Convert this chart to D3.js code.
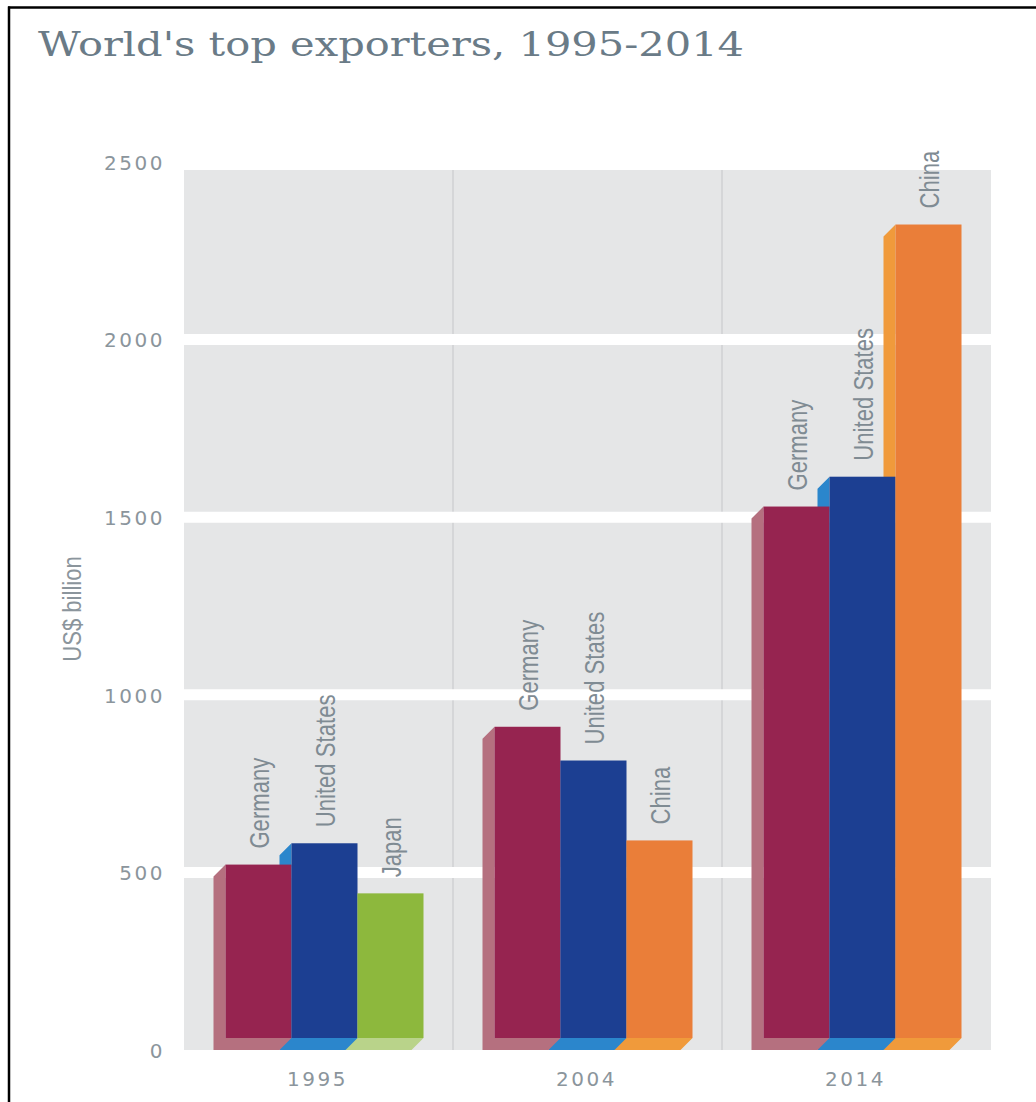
<!DOCTYPE html>
<html>
<head>
<meta charset="utf-8">
<script src="https://cdn.jsdelivr.net/npm/d3@7"></script>
<style>
  html, body { margin: 0; padding: 0; background: #ffffff; }
  svg { display: block; }
</style>
</head>
<body>
<svg id="chart" width="1036" height="1102"></svg>
<script>
// ---------- data ----------
const years = ["1995", "2004", "2014"];
const countries1995 = ["Germany", "United States", "Japan"];
const values1995 = [522, 582, 441];
const countries2004 = ["Germany", "United States", "China"];
const values2004 = [910, 815, 590];
const countries2014 = ["Germany", "United States", "China"];
const values2014 = [1530, 1614, 2324];
const yTicks = [0, 500, 1000, 1500, 2000, 2500];
const gridValues = [500, 1000, 1500, 2000];
const titleText = "World's top exporters, 1995-2014";
const yAxisTitle = "US$ billion";

const frontColors = { "Germany": "#962450", "United States": "#1c3f92", "Japan": "#8db83d", "China": "#ea7e39" };
const sideColors  = { "Germany": "#b5707f", "United States": "#2b86cc", "Japan": "#b9d38a", "China": "#f09a3b" };

const groups = [
  { year: years[0], countries: countries1995, values: values1995 },
  { year: years[1], countries: countries2004, values: values2004 },
  { year: years[2], countries: countries2014, values: values2014 }
];

// ---------- layout ----------
const plotLeft = 184, plotRight = 991, plotTop = 170;
const depth = 12, barW = 66;

const svg = d3.select("#chart");

const x = d3.scaleBand().domain(years).range([plotLeft, plotRight]).padding(0);
const y = d3.scaleLinear().domain([0, 2500]).range([1050, 162]);
const y0 = y(0);

// border
svg.append("line").attr("x1", 8).attr("x2", 1036).attr("y1", 7.5).attr("y2", 7.5)
  .attr("stroke", "#000").attr("stroke-width", 2.5);
svg.append("line").attr("x1", 9).attr("x2", 9).attr("y1", 6.5).attr("y2", 1102)
  .attr("stroke", "#000").attr("stroke-width", 2.5);

// title
svg.append("text")
  .attr("x", 38).attr("y", 56)
  .attr("font-family", "'DejaVu Serif', serif")
  .attr("font-size", 34)
  .attr("fill", "#6a7b87")
  .attr("textLength", 706).attr("lengthAdjust", "spacingAndGlyphs")
  .text(titleText);

// plot background
svg.append("rect")
  .attr("x", plotLeft).attr("y", plotTop)
  .attr("width", plotRight - plotLeft).attr("height", y0 - plotTop)
  .attr("fill", "#e5e6e7");

// group separators
svg.selectAll("line.sep").data(years.slice(1)).enter().append("line")
  .attr("class", "sep")
  .attr("x1", d => x(d)).attr("x2", d => x(d))
  .attr("y1", plotTop).attr("y2", y0)
  .attr("stroke", "#d5d6d8").attr("stroke-width", 2);

// gridlines
svg.selectAll("line.grid").data(gridValues).enter().append("line")
  .attr("class", "grid")
  .attr("x1", plotLeft).attr("x2", plotRight)
  .attr("y1", d => y(d)).attr("y2", d => y(d))
  .attr("stroke", "#ffffff").attr("stroke-width", 11);

// y tick labels
const yAxis = d3.axisLeft(y).tickValues(yTicks).tickFormat(d3.format("d")).tickSize(0).tickPadding(0);
const yg = svg.append("g").attr("transform", "translate(165,0)").call(yAxis);
yg.select(".domain").remove();
yg.selectAll("text")
  .attr("font-family", "'DejaVu Sans', sans-serif")
  .attr("font-size", 20)
  .attr("letter-spacing", "2.5px")
  .attr("fill", "#8b959c")
  .attr("dy", "0.36em");

// year labels
const xAxis = d3.axisBottom(x).tickSize(0).tickPadding(0);
const xg = svg.append("g").attr("transform", "translate(-1,1086)").call(xAxis);
xg.select(".domain").remove();
xg.selectAll("text")
  .attr("font-family", "'DejaVu Sans', sans-serif")
  .attr("font-size", 20)
  .attr("letter-spacing", "2.5px")
  .attr("fill", "#8b959c")
  .attr("dy", 0);

// y axis title
svg.append("text")
  .attr("transform", "translate(72,609) rotate(-90) scale(0.85,1)")
  .attr("text-anchor", "middle")
  .attr("dy", "0.35em")
  .attr("font-family", "'Liberation Sans', Arial, sans-serif")
  .attr("font-size", 26)
  .attr("fill", "#8b959c")
  .text(yAxisTitle);

// bars
const bars = [];
groups.forEach(g => {
  const left = x(g.year) + x.bandwidth() / 2 - (depth + 3 * barW) / 2;
  g.countries.forEach((c, i) => {
    bars.push({ year: g.year, idx: i, country: c, value: g.values[i], x0: left + depth + i * barW, x1: left + depth + (i + 1) * barW });
  });
});

// side + bottom faces first, drawn right-to-left so each left bar's bottom overlaps its neighbour's side
const sideOrder = bars.slice().sort((a, b) => b.x0 - a.x0);
svg.selectAll("path.side").data(sideOrder).enter().append("path")
  .attr("class", "side")
  .attr("fill", d => sideColors[d.country])
  .attr("d", d => {
    const yt = y(d.value);
    return "M" + [
      [d.x0 - depth, yt + depth],
      [d.x0, yt],
      [d.x0, y0 - depth],
      [d.x1, y0 - depth],
      [d.x1 - depth, y0],
      [d.x0 - depth, y0]
    ].map(p => p.join(",")).join("L") + "Z";
  });

// front faces
svg.selectAll("rect.front").data(bars).enter().append("rect")
  .attr("class", "front")
  .attr("x", d => d.x0)
  .attr("y", d => y(d.value))
  .attr("width", d => d.x1 - d.x0)
  .attr("height", d => (y0 - depth) - y(d.value))
  .attr("fill", d => frontColors[d.country]);

// country labels
svg.selectAll("text.country").data(bars).enter().append("text")
  .attr("class", "country")
  .attr("transform", d => `translate(${(d.x0 + d.x1) / 2 + 1},${y(d.value) - 16}) rotate(-90) scale(0.82,1)`)
  .attr("dy", "0.36em")
  .attr("text-anchor", "start")
  .attr("font-family", "'Liberation Sans', Arial, sans-serif")
  .attr("font-size", 27)
  .attr("fill", "#7f8b93")
  .text(d => d.country);
</script>
</body>
</html>
